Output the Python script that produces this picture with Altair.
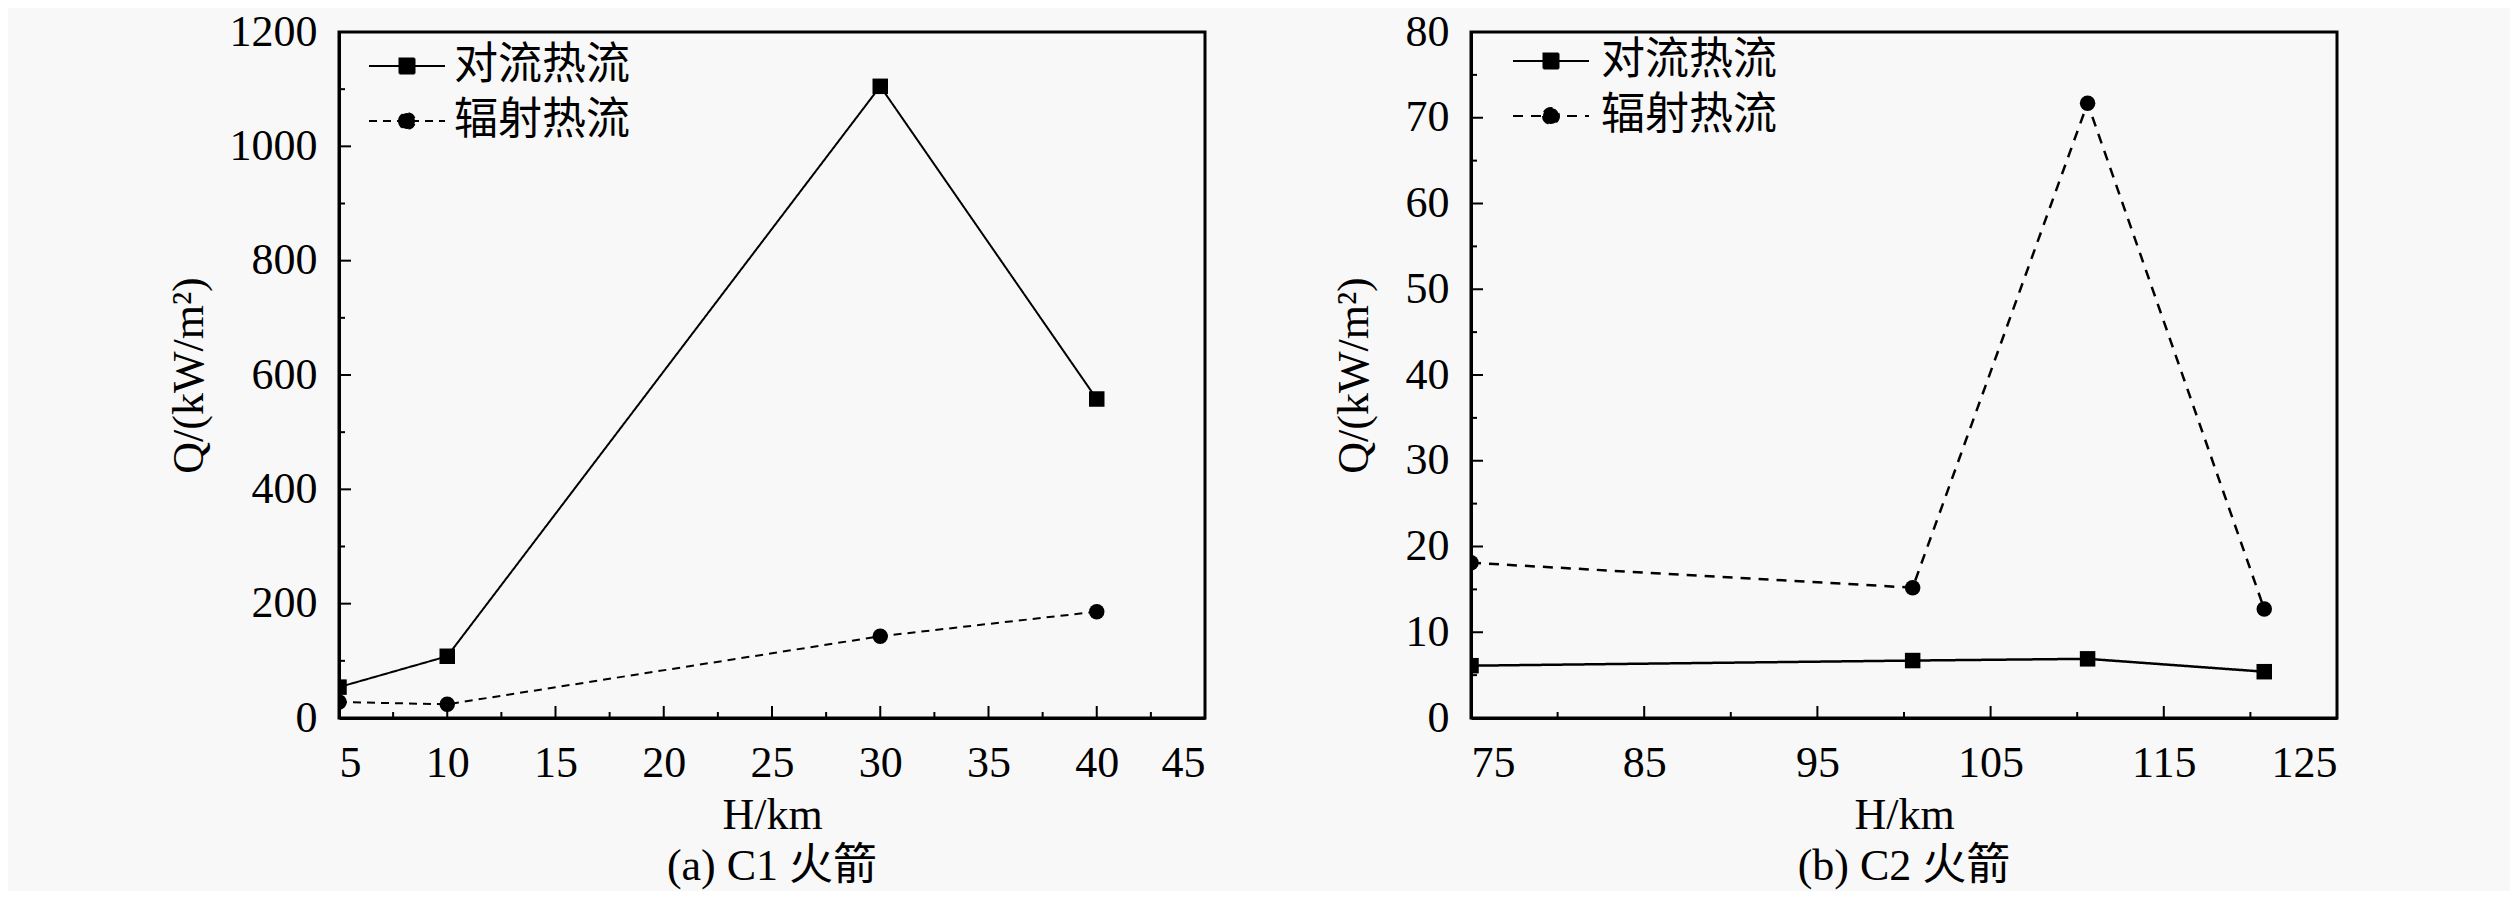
import altair as alt
import pandas as pd

FONT = "Liberation Serif, Noto Sans CJK SC"
NUM_FONT = "Liberation Serif"
series_names = ["对流热流", "辐射热流"]

# Panel (a) C1
h_a = [5, 10, 30, 40]
conv_a = [54, 108, 1105, 558]
rad_a = [28, 24, 143, 186]
xmajor_a = [5, 10, 15, 20, 25, 30, 35, 40, 45]
xminor_a = [7.5, 12.5, 17.5, 22.5, 27.5, 32.5, 37.5, 42.5]
ymajor_a = [0, 200, 400, 600, 800, 1000, 1200]
yminor_a = [100, 300, 500, 700, 900, 1100]

# Panel (b) C2
h_b = [75, 100.5, 110.6, 120.8]
conv_b = [6.1, 6.7, 6.9, 5.4]
rad_b = [18.1, 15.2, 71.7, 12.7]
xmajor_b = [75, 85, 95, 105, 115, 125]
xminor_b = [80, 90, 100, 110, 120]
ymajor_b = [0, 10, 20, 30, 40, 50, 60, 70, 80]
yminor_b = [5, 15, 25, 35, 45, 55, 65, 75]

SQ_PATH = "M-3.8,0H3.8M-0.75,-0.75H0.75V0.75H-0.75Z"
CI_PATH = "M-3.8,0H3.8M-0.8,0A0.8,0.8,0,1,0,0.8,0A0.8,0.8,0,1,0,-0.8,0Z"


def make_df(h, vals, name):
    return pd.DataFrame({"H": h, "Q": vals, "series": [name] * len(h)})


def panel(h, conv, rad, xdom, ydom, xmaj, xmin, ymaj, ymin, caption,
          legx, legy, ytitle_pad, lw, dash, label_off):
    df_c = make_df(h, conv, series_names[0])
    df_r = make_df(h, rad, series_names[1])
    df = pd.concat([df_c, df_r], ignore_index=True)

    x_axis = alt.Axis(values=xmaj, title="H/km", ticks=False, format="d",
                      labelFont=NUM_FONT, titleFont=NUM_FONT,
                      labelPadding=23, titlePadding=8)
    y_axis = alt.Axis(values=ymaj, title="Q/(kW/m²)", ticks=False, format="d",
                      labelFont=NUM_FONT, titleFont=NUM_FONT,
                      labelPadding=22, titlePadding=ytitle_pad)
    xs = alt.Scale(domain=xdom, nice=False, zero=False)
    ys = alt.Scale(domain=ydom, nice=False)

    def X():
        return alt.X("H:Q", scale=xs, axis=x_axis)

    def Y():
        return alt.Y("Q:Q", scale=ys, axis=y_axis)

    def legend(dy, path):
        return alt.Legend(
            title=None, orient="none", legendX=legx, legendY=legy + dy,
            symbolType=path, symbolSize=400, symbolStrokeWidth=2,
            symbolStrokeColor="black", symbolFillColor="black",
            labelFontSize=44, labelFont=FONT, labelColor="black",
            labelOffset=label_off, labelLimit=400,
        )

    line_c = alt.Chart(df_c).mark_line(color="black", strokeWidth=lw).encode(
        x=X(), y=Y(),
        strokeDash=alt.StrokeDash("series:N",
                                  scale=alt.Scale(domain=[series_names[0]], range=[[1, 0]]),
                                  legend=legend(0, SQ_PATH)),
    )
    line_r = alt.Chart(df_r).mark_line(color="black", strokeWidth=lw).encode(
        x=X(), y=Y(),
        strokeDash=alt.StrokeDash("series:N",
                                  scale=alt.Scale(domain=[series_names[1]], range=[dash]),
                                  legend=legend(55, CI_PATH)),
    )
    points = alt.Chart(df).mark_point(filled=True, color="black", opacity=1, size=240, clip=True).encode(
        x=X(), y=Y(),
        shape=alt.Shape("series:N", scale=alt.Scale(domain=series_names, range=["square", "circle"]),
                        legend=None),
    )
    xt_major = alt.Chart(pd.DataFrame({"H": xmaj})).mark_tick(
        orient="vertical", size=12, thickness=2, yOffset=-6, color="black", opacity=1
    ).encode(x=X(), y=alt.datum(ydom[0]))
    xt_minor = alt.Chart(pd.DataFrame({"H": xmin})).mark_tick(
        orient="vertical", size=6, thickness=2, yOffset=-3, color="black", opacity=1
    ).encode(x=X(), y=alt.datum(ydom[0]))
    yt_major = alt.Chart(pd.DataFrame({"Q": ymaj})).mark_tick(
        orient="horizontal", size=12, thickness=2, xOffset=6, color="black", opacity=1
    ).encode(y=Y(), x=alt.datum(xdom[0]))
    yt_minor = alt.Chart(pd.DataFrame({"Q": ymin})).mark_tick(
        orient="horizontal", size=6, thickness=2, xOffset=3, color="black", opacity=1
    ).encode(y=Y(), x=alt.datum(xdom[0]))

    return alt.layer(xt_major, xt_minor, yt_major, yt_minor, line_c, line_r, points).resolve_scale(
        strokeDash="independent"
    ).resolve_legend(strokeDash="independent").properties(
        width=866, height=686,
        title=alt.TitleParams(caption, orient="bottom", fontSize=44, font=FONT,
                              fontWeight="normal", anchor="middle", frame="group",
                              offset=8, color="black"),
    )


left = panel(h_a, conv_a, rad_a, [5, 45], [0, 1200],
             xmajor_a, xminor_a, ymajor_a, yminor_a, "(a) C1 火箭",
             46, 12, 18, 2, [8, 6], 25)
right = panel(h_b, conv_b, rad_b, [75, 125], [0, 80],
              xmajor_b, xminor_b, ymajor_b, yminor_b, "(b) C2 火箭",
              58, 7, 29, 2.5, [10, 8], 28)

chart = alt.hconcat(left, right, spacing=122).resolve_scale(
    strokeDash="independent", shape="independent"
).resolve_legend(strokeDash="independent").configure_axis(
    labelFont=NUM_FONT, titleFont=NUM_FONT, labelFontSize=44, titleFontSize=44,
    labelColor="black", titleColor="black", titleFontWeight="normal",
    domainColor="black", domainWidth=3, grid=False,
).configure_view(stroke="black", strokeWidth=3).properties(
    background="#f8f8f8",
    padding={"left": 157, "top": 0, "right": 170, "bottom": 0},
)

chart.save("out.html", embed_options={"renderer": "svg", "actions": False})
